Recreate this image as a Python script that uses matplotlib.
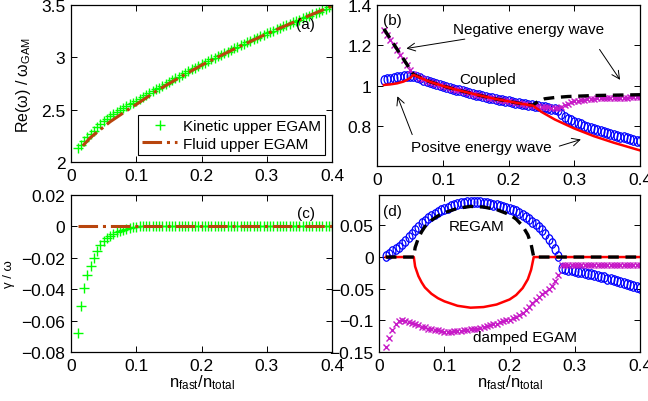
import numpy as np
import matplotlib
matplotlib.use("Agg")
import matplotlib.pyplot as plt
from matplotlib.path import Path

plt.rcParams['font.family'] = ['Liberation Sans', 'DejaVu Sans']
plt.rcParams['mathtext.default'] = 'regular'
plt.rcParams['xtick.direction'] = 'in'
plt.rcParams['ytick.direction'] = 'in'
plt.rcParams['xtick.top'] = True
plt.rcParams['ytick.right'] = True

# n_fast / n_total sample points of the kinetic runs (step 0.005)
n_fast = np.arange(2, 81) * 0.005

# (a) real frequency, upper EGAM
kin_re = [2.130, 2.165, 2.200, 2.235, 2.270, 2.300, 2.330, 2.360, 2.390, 2.413,
          2.435, 2.458, 2.480, 2.498, 2.515, 2.533, 2.550, 2.568, 2.585, 2.603,
          2.621, 2.640, 2.658, 2.675, 2.693, 2.711, 2.729, 2.747, 2.765, 2.782,
          2.799, 2.816, 2.833, 2.850, 2.867, 2.884, 2.901, 2.918, 2.935, 2.950,
          2.965, 2.980, 2.995, 3.010, 3.025, 3.040, 3.055, 3.070, 3.085, 3.100,
          3.114, 3.129, 3.143, 3.158, 3.172, 3.187, 3.201, 3.216, 3.230, 3.243,
          3.256, 3.269, 3.282, 3.295, 3.308, 3.321, 3.334, 3.347, 3.360, 3.373,
          3.386, 3.399, 3.412, 3.425, 3.438, 3.451, 3.464, 3.477, 3.490]
fluid_x = [0.018, 0.03, 0.04, 0.06, 0.085, 0.1, 0.13, 0.16, 0.2, 0.25, 0.3, 0.35, 0.4]
fluid_re = [2.155, 2.235, 2.285, 2.385, 2.49, 2.55, 2.675, 2.785, 2.925, 3.08, 3.225, 3.36, 3.49]

# (c) growth rate, upper EGAM
kin_gam = [-0.068, -0.051, -0.039, -0.031, -0.025, -0.020, -0.0155, -0.012, -0.0095, -0.0075,
           -0.006, -0.0047, -0.0036, -0.0027, -0.002, -0.0014, -0.0009, -0.0005, -0.0002] + [0.0] * 60
fluid_gam_x = [0.01, 0.4]
fluid_gam = [0.0, 0.0]

# (b) real frequency, lower branch
circ_re = [1.030, 1.033, 1.036, 1.039, 1.042, 1.045, 1.047, 1.049, 1.050, 1.048,
           1.044, 1.038, 1.032, 1.027, 1.021, 1.016, 1.011, 1.006, 1.001, 0.996,
           0.991, 0.987, 0.982, 0.978, 0.974, 0.970, 0.966, 0.962, 0.958, 0.954,
           0.950, 0.947, 0.943, 0.940, 0.936, 0.933, 0.930, 0.927, 0.924, 0.921,
           0.918, 0.915, 0.912, 0.909, 0.907, 0.904, 0.902, 0.899, 0.897, 0.894,
           0.891, 0.888, 0.885, 0.880, 0.862, 0.848, 0.838, 0.830, 0.823, 0.816,
           0.810, 0.804, 0.798, 0.793, 0.788, 0.783, 0.778, 0.773, 0.768, 0.764,
           0.759, 0.755, 0.750, 0.746, 0.742, 0.738, 0.734, 0.730, 0.726]
cross_re = [1.275, 1.250, 1.225, 1.200, 1.177, 1.153, 1.130, 1.105, 1.080, 1.058,
            1.047, 1.040, 1.033, 1.027, 1.021, 1.016, 1.011, 1.006, 1.001, 0.996,
            0.991, 0.987, 0.982, 0.978, 0.974, 0.970, 0.966, 0.962, 0.958, 0.954,
            0.950, 0.947, 0.943, 0.940, 0.936, 0.933, 0.930, 0.927, 0.924, 0.921,
            0.918, 0.915, 0.912, 0.909, 0.907, 0.904, 0.902, 0.900, 0.898, 0.896,
            0.894, 0.892, 0.890, 0.889, 0.895, 0.905, 0.913, 0.919, 0.924, 0.928,
            0.931, 0.933, 0.935, 0.937, 0.938, 0.939, 0.940, 0.941, 0.942, 0.942,
            0.942, 0.943, 0.943, 0.943, 0.943, 0.944, 0.944, 0.944, 0.944]
neg_x = [0.01, 0.055, 0.08, 0.1, 0.12, 0.15, 0.18, 0.2, 0.22, 0.237,
         0.245, 0.255, 0.27, 0.29, 0.33, 0.4]
neg_re = [1.282, 1.057, 1.021, 1.0, 0.982, 0.958, 0.936, 0.924, 0.912, 0.905,
          0.925, 0.937, 0.943, 0.948, 0.953, 0.957]
pos_x = [0.01, 0.02, 0.03, 0.04, 0.045, 0.05, 0.055, 0.08, 0.1, 0.12, 0.15, 0.18,
         0.2, 0.22, 0.237, 0.25, 0.27, 0.3, 0.33, 0.36, 0.4]
pos_re = [1.005, 1.008, 1.013, 1.022, 1.03, 1.04, 1.055, 1.021, 1.0, 0.982, 0.958, 0.936,
          0.924, 0.912, 0.903, 0.872, 0.835, 0.790, 0.752, 0.72, 0.682]

# (d) growth rate, lower branch
circ_gam = [0.002, 0.005, 0.009, 0.012, 0.016, 0.020, 0.025, 0.031, 0.037, 0.043,
            0.048, 0.053, 0.057, 0.061, 0.065, 0.068, 0.071, 0.074, 0.076, 0.078,
            0.080, 0.082, 0.084, 0.085, 0.086, 0.0865, 0.087, 0.087, 0.087, 0.0865,
            0.086, 0.085, 0.084, 0.083, 0.082, 0.081, 0.079, 0.078, 0.076, 0.074,
            0.072, 0.069, 0.067, 0.064, 0.060, 0.056, 0.052, 0.047, 0.042, 0.036,
            0.029, 0.022, 0.013, 0.001, -0.018, -0.019, -0.020, -0.021, -0.022, -0.023,
            -0.024, -0.025, -0.026, -0.027, -0.028, -0.030, -0.031, -0.032, -0.034, -0.035,
            -0.037, -0.038, -0.040, -0.041, -0.043, -0.044, -0.046, -0.047, -0.049]
cross_gam = [-0.142, -0.128, -0.115, -0.106, -0.101, -0.100, -0.101, -0.102, -0.104, -0.106,
             -0.108, -0.110, -0.111, -0.113, -0.114, -0.115, -0.116, -0.117, -0.118, -0.118,
             -0.118, -0.1175, -0.117, -0.1165, -0.116, -0.115, -0.114, -0.1135, -0.113, -0.112,
             -0.111, -0.109, -0.108, -0.106, -0.105, -0.103, -0.1015, -0.100, -0.099, -0.097,
             -0.094, -0.091, -0.088, -0.084, -0.079, -0.073, -0.068, -0.063, -0.059, -0.055,
             -0.050, -0.045, -0.038, -0.029, -0.013, -0.012, -0.012, -0.012, -0.012, -0.012,
             -0.012, -0.012, -0.012, -0.012, -0.012, -0.012, -0.012, -0.012, -0.012, -0.012,
             -0.012, -0.012, -0.012, -0.012, -0.012, -0.012, -0.012, -0.012, -0.012]
fl_gam_x = [0.01, 0.053, 0.055, 0.06, 0.065, 0.07, 0.08, 0.09, 0.1, 0.12, 0.14, 0.16,
            0.18, 0.2, 0.21, 0.22, 0.228, 0.233, 0.236, 0.237, 0.4]
regam = [0, 0, 0.015, 0.03, 0.04, 0.048, 0.058, 0.065, 0.07, 0.077, 0.08, 0.079,
         0.075, 0.067, 0.06, 0.049, 0.035, 0.02, 0.005, 0, 0]
damped = [0, 0, -0.015, -0.03, -0.04, -0.048, -0.058, -0.065, -0.07, -0.077, -0.08, -0.079,
          -0.075, -0.067, -0.06, -0.049, -0.035, -0.02, -0.005, 0, 0]

green = (0.0, 1.0, 0.0)
brown = (0.72, 0.27, 0.05)
magenta = (0.78, 0.1, 0.78)

# the circles in the original are slightly squashed (taller than wide)
circ = Path.unit_circle()
oval = Path(circ.vertices * [0.72, 1.0], circ.codes)

fig = plt.figure(figsize=(6.48, 4.02), dpi=100)
ax_a = fig.add_axes([0.1096, 0.5945, 0.4028, 0.3905])
ax_b = fig.add_axes([0.5823, 0.5846, 0.4054, 0.4005])
ax_c = fig.add_axes([0.1096, 0.1219, 0.4028, 0.3905])
ax_d = fig.add_axes([0.5853, 0.1219, 0.4023, 0.3905])

tick_fs = 12.5
lab_fs = 12
txt_fs = 11

# panel (a)
ax_a.plot(n_fast, kin_re, '+', color=green, ms=7, mew=1.0, label='Kinetic upper EGAM')
ax_a.plot(fluid_x, fluid_re, '-.', color=brown, lw=2.2, label='Fluid upper EGAM')
ax_a.set_xlim(0, 0.4)
ax_a.set_ylim(2, 3.5)
ax_a.set_yticks([2, 2.5, 3, 3.5])
ax_a.set_yticklabels(['2', '2.5', '3', '3.5'])
ax_a.set_ylabel('Re(ω) / ω$_{GAM}$', fontsize=11.5, labelpad=6)
ax_a.text(0.36, 3.32, '(a)', fontsize=txt_fs, ha='center', va='center')
leg = ax_a.legend(loc='lower right', fontsize=txt_fs, frameon=True, fancybox=False,
                  edgecolor='black', framealpha=1, borderaxespad=0.45,
                  handlelength=2.3, handletextpad=0.35, borderpad=0.3, labelspacing=0.2)
leg.get_frame().set_linewidth(0.8)

# panel (c)
ax_c.plot(n_fast, kin_gam, '+', color=green, ms=7, mew=1.0)
ax_c.plot(fluid_gam_x, fluid_gam, '-.', color=brown, lw=2.2)
ax_c.set_xlim(0, 0.4)
ax_c.set_ylim(-0.08, 0.02)
ax_c.set_yticks([-0.08, -0.06, -0.04, -0.02, 0, 0.02])
ax_c.set_yticklabels(['\u22120.08', '\u22120.06', '\u22120.04', '\u22120.02', '0', '0.02'])
ax_c.set_ylabel('γ / ω', fontsize=9.5, labelpad=5)
ax_c.set_xlabel('n$_{fast}$/n$_{total}$', fontsize=lab_fs, labelpad=0)
ax_c.text(0.36, 0.0085, '(c)', fontsize=txt_fs, ha='center', va='center')

# panel (b)
ax_b.plot(n_fast, circ_re, ls='none', marker=oval, mfc='none', mec='blue', ms=6.8, mew=0.9)
ax_b.plot(n_fast, cross_re, 'x', color=magenta, ms=4.5, mew=1.0)
ax_b.plot(neg_x, neg_re, '--', color='black', lw=2.4, dashes=(3.2, 2))
ax_b.plot(pos_x, pos_re, '-', color='red', lw=1.8)
ax_b.set_xlim(0, 0.4)
ax_b.set_ylim(0.605, 1.4)
ax_b.set_yticks([0.8, 1, 1.2, 1.4])
ax_b.set_yticklabels(['0.8', '1', '1.2', '1.4'])
ax_b.text(0.023, 1.325, '(b)', fontsize=txt_fs, ha='center', va='center')
ax_b.text(0.168, 1.035, 'Coupled', fontsize=txt_fs, ha='center', va='center')
arr = dict(arrowstyle='->', color='black', lw=0.7, mutation_scale=14)
ax_b.annotate('Negative energy wave', xy=(0.04, 1.183), xytext=(0.115, 1.282),
              fontsize=txt_fs, ha='left', va='center', arrowprops=arr)
ax_b.annotate('', xy=(0.372, 1.019), xytext=(0.336, 1.192), arrowprops=arr)
ax_b.annotate('Positve energy wave', xy=(0.029, 0.962), xytext=(0.052, 0.699),
              fontsize=txt_fs, ha='left', va='center',
              arrowprops=dict(arr, relpos=(0.02, 1.0)))
ax_b.annotate('', xy=(0.314, 0.74), xytext=(0.273, 0.699), arrowprops=arr)

# panel (d)
ax_d.plot(n_fast, circ_gam, ls='none', marker=oval, mfc='none', mec='blue', ms=6.8, mew=0.9)
ax_d.plot(n_fast, cross_gam, 'x', color=magenta, ms=4.5, mew=1.0)
ax_d.plot(fl_gam_x, damped, '-', color='red', lw=1.8)
ax_d.plot(fl_gam_x, regam, '--', color='black', lw=2.4, dashes=(3.2, 2))
ax_d.set_xlim(0, 0.4)
ax_d.set_ylim(-0.15, 0.098)
ax_d.set_yticks([-0.15, -0.1, -0.05, 0, 0.05])
ax_d.set_yticklabels(['\u22120.15', '\u22120.1', '\u22120.05', '0', '0.05'])
ax_d.set_xlabel('n$_{fast}$/n$_{total}$', fontsize=lab_fs, labelpad=0)
ax_d.text(0.02, 0.073, '(d)', fontsize=txt_fs, ha='center', va='center')
ax_d.text(0.149, 0.049, 'REGAM', fontsize=txt_fs, ha='center', va='center')
ax_d.text(0.223, -0.127, 'damped EGAM', fontsize=txt_fs, ha='center', va='center')

for ax in (ax_a, ax_b, ax_c, ax_d):
    ax.set_xticks([0, 0.1, 0.2, 0.3, 0.4])
    ax.set_xticklabels(['0', '0.1', '0.2', '0.3', '0.4'])
    ax.tick_params(labelsize=tick_fs, length=4, width=0.7, pad=4)
    for s in ax.spines.values():
        s.set_linewidth(0.9)

fig.savefig('out.png', dpi=100)
